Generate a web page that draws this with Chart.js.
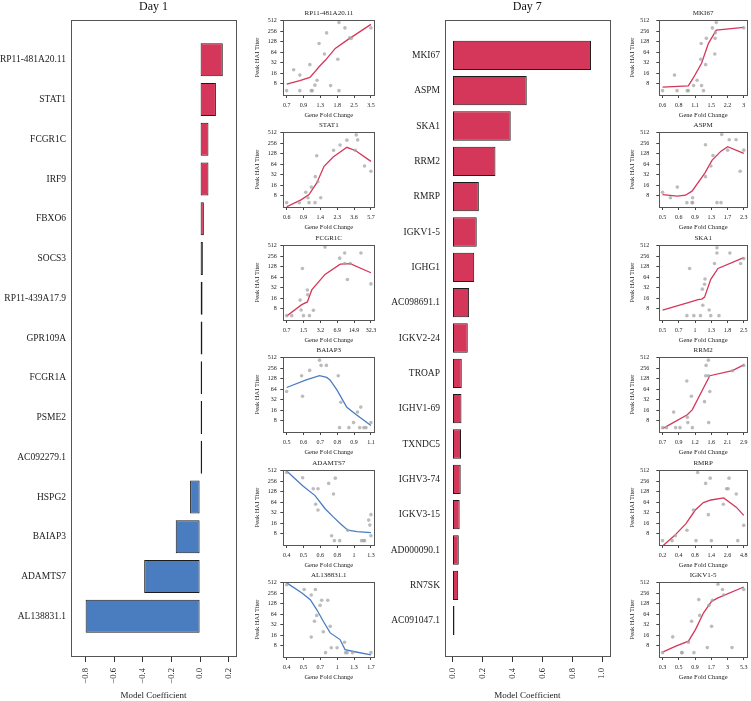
<!DOCTYPE html>
<html>
<head>
<meta charset="utf-8">
<script src="https://cdn.jsdelivr.net/npm/chart.js@4/dist/chart.umd.min.js"></script>
<style>
  body { margin: 0; background: #fff; width: 751px; height: 701px; overflow: hidden; position: relative; }
  canvas { position: absolute; }
</style>
</head>
<body>
<script>
// ---- bar charts: model coefficients ----
const day1Genes = ['RP11-481A20.11', 'STAT1', 'FCGR1C', 'IRF9', 'FBXO6', 'SOCS3', 'RP11-439A17.9', 'GPR109A',
  'FCGR1A', 'PSME2', 'AC092279.1', 'HSPG2', 'BAIAP3', 'ADAMTS7', 'AL138831.1'];
const day1Coef = [0.158, 0.110, 0.058, 0.058, 0.026, 0.019, 0.017, 0.016, 0.010, 0.001, 0.001, -0.070, -0.170, -0.390, -0.798];
const day1Ticks = [-0.8, -0.6, -0.4, -0.2, 0.0, 0.2];

const day7Genes = ['MKI67', 'ASPM', 'SKA1', 'RRM2', 'RMRP', 'IGKV1-5', 'IGHG1', 'AC098691.1', 'IGKV2-24', 'TROAP',
  'IGHV1-69', 'TXNDC5', 'IGHV3-74', 'IGKV3-15', 'AD000090.1', 'RN7SK', 'AC091047.1'];
const day7Coef = [0.925, 0.496, 0.389, 0.287, 0.176, 0.162, 0.145, 0.111, 0.102, 0.062, 0.060, 0.057, 0.055, 0.048, 0.042, 0.038, 0.001];
const day7Ticks = [0.0, 0.2, 0.4, 0.6, 0.8, 1.0];

// ---- small panels: [gene fold change, peak HAI titer] ----
const titerTicks = [8, 16, 32, 64, 128, 256, 512];

const rp11Pts = [[0.7,5],[0.8,20],[0.9,14],[0.9,5],[1.09,28],[1.12,5],[1.14,5],[1.2,7.2],[1.25,10],[1.3,114],[1.44,57],
  [1.5,230],[1.62,7],[1.86,40],[1.9,460],[1.9,5],[2.13,320],[2.33,165],[2.41,160],[3.5,320]];
const rp11Fit = [[0.7,7.7],[0.9,9.8],[1.09,12.1],[1.17,15.8],[1.3,24.4],[1.47,38],[1.77,82],[2.22,142],[3.5,403]];
const rp11Ticks = ['0.7', '0.9', '1.3', '1.8', '2.5', '3.5'];

const stat1Pts = [[0.6,5],[0.84,5],[1.0,10],[1.06,6.9],[1.09,5],[1.16,14],[1.28,5],[1.29,28],[1.34,112],[1.38,20],
  [1.49,6.9],[2.1,160],[2.5,228],[3.0,315],[3.75,160],[3.85,445],[4.0,320],[4.8,57],[5.7,40]];
const stat1Fit = [[0.6,3.8],[0.89,6.1],[1.09,8.5],[1.34,18.5],[1.63,55.6],[2.08,103],[3.0,196],[3.8,156],[5.7,77]];
const stat1Ticks = ['0.6', '0.9', '1.4', '2.3', '3.6', '5.7'];

const fcgr1cPts = [[0.7,5],[0.88,5],[1.29,14],[1.35,7.3],[1.43,114],[1.5,5],[1.79,27.5],[1.82,20],[1.97,5],[2.36,7.1],
  [4.0,470],[7.8,226],[9.8,317],[9.8,158],[11.1,55],[12.6,158],[20.5,317],[32.3,41]];
const fcgr1cFit = [[0.7,4.9],[1.39,10.4],[1.79,12.4],[2.19,27.5],[4.0,77],[8.0,152],[12.6,158],[32.3,86]];
const fcgr1cTicks = ['0.7', '1.5', '3.2', '6.9', '14.9', '32.3'];

const baiap3Pts = [[0.5,55],[0.575,156],[0.58,40],[0.62,222],[0.68,438],[0.69,310],[0.725,310],[0.81,156],[0.82,5],
  [0.83,27],[0.895,5],[0.935,7],[0.97,14],[0.99,5],[1.0,19.5],[1.03,5],[1.05,5],[1.1,7]];
const baiap3Fit = [[0.5,71.5],[0.6,118],[0.68,156],[0.727,140],[0.75,118],[0.8,61],[0.878,19.2],[0.96,11.8],[1.1,5.8]];
const baiap3Ticks = ['0.5', '0.6', '0.7', '0.8', '0.9', '1.1'];

const adamts7Pts = [[0.4,459],[0.5,322],[0.58,156],[0.62,156],[0.6,56],[0.62,38],[0.72,222],[0.77,110],[0.79,315],
  [0.75,6.9],[0.78,5],[0.84,5],[0.94,10],[1.14,5],[1.17,5],[1.19,5],[1.26,19.5],[1.3,28],[1.28,14],[1.3,6.9]];
const adamts7Fit = [[0.4,506],[0.5,191],[0.595,99],[0.685,41.5],[0.77,23.8],[0.845,15.6],[0.94,10.0],[1.07,9.1],[1.3,8.5]];
const adamts7Ticks = ['0.4', '0.5', '0.6', '0.8', '1', '1.3'];

const al1388Pts = [[0.4,452],[0.54,327],[0.61,229],[0.655,327],[0.61,14],[0.645,40],[0.67,59],[0.71,115],[0.73,161],
  [0.81,161],[0.75,20],[0.78,5],[0.845,28.6],[0.86,6.9],[0.95,6.9],[1.08,10],[1.1,5],[1.13,5],[1.24,5],[1.7,5]];
const al1388Fit = [[0.4,510],[0.52,262],[0.6,168],[0.67,87],[0.75,40],[0.845,18.5],[1.0,11.9],[1.09,6.1],[1.26,5.4],[1.7,4.3]];
const al1388Ticks = ['0.4', '0.5', '0.7', '1', '1.3', '1.7'];

const mki67Pts = [[0.6,5],[0.76,14],[0.8,5],[0.98,5],[1.0,5],[1.11,7],[1.19,10],[1.28,40],[1.29,114],[1.3,7],[1.35,5],
  [1.41,28],[1.43,160],[1.61,320],[1.69,57],[1.7,160],[1.71,232],[1.74,457],[3.0,320]];
const mki67Fit = [[0.6,6.3],[1.0,6.9],[1.1,11.4],[1.3,30.6],[1.49,115],[1.74,275],[3.0,331]];
const mki67Ticks = ['0.6', '0.8', '1.1', '1.5', '2.2', '3'];

const aspmPts = [[0.5,10],[0.58,6.9],[0.66,14],[0.79,5],[0.87,5],[0.88,5],[0.88,6.9],[1.12,232],[1.12,28],[1.24,57],
  [1.29,114],[1.39,5],[1.5,5],[1.52,457],[1.7,162],[1.75,324],[1.99,324],[2.15,40],[2.3,162]];
const aspmFit = [[0.5,8.5],[0.66,7.7],[0.77,8.2],[0.87,10.7],[1.11,36],[1.27,84],[1.5,152],[1.7,205],[2.3,131]];
const aspmTicks = ['0.5', '0.6', '0.9', '1.3', '1.7', '2.3'];

const ska1Pts = [[0.81,5],[0.855,114],[0.93,5],[1.06,5],[1.1,29],[1.11,10],[1.15,40],[1.16,57],[1.26,7.3],[1.3,5],
  [1.4,158],[1.47,452],[1.47,317],[1.53,5],[1.9,317],[2.35,158],[2.5,219]];
const ska1Fit = [[0.5,7.2],[0.845,12],[1.01,14.4],[1.09,15],[1.15,17.1],[1.3,55.7],[1.5,114],[2.5,234]];
const ska1Ticks = ['0.5', '0.7', '1', '1.3', '1.8', '2.5'];

const rrm2Pts = [[0.7,5],[0.75,5],[0.85,14],[0.88,5],[0.95,5],[1.07,110],[1.08,10],[1.09,7],[1.16,40],[1.18,5],
  [1.46,28],[1.49,156],[1.5,310],[1.56,438],[1.57,7],[1.56,156],[1.6,55],[2.38,218],[2.9,310]];
const rrm2Fit = [[0.7,4.7],[1.08,11.8],[1.18,16.5],[1.6,156],[2.38,218],[2.9,321]];
const rrm2Ticks = ['0.7', '0.9', '1.2', '1.6', '2.1', '2.9'];

const rmrpPts = [[0.2,5],[0.29,5],[0.33,6.9],[0.52,10],[0.67,38],[0.74,5],[0.79,459],[1.08,222],[1.2,28],[1.29,315],
  [1.35,5],[2.16,56],[2.46,156],[2.6,156],[2.7,315],[3.58,110],[3.8,5],[4.8,13.8]];
const rmrpFit = [[0.2,3.5],[0.32,7],[0.5,15.5],[0.72,38],[0.99,62.6],[1.33,74],[2.19,85],[3.58,46],[4.8,26.6]];
const rmrpTicks = ['0.2', '0.4', '0.8', '1.4', '2.6', '4.8'];

const igkv15Pts = [[0.3,5],[0.43,14.2],[0.59,5],[0.6,5],[0.75,10],[0.84,40],[0.91,5],[1.08,168],[1.12,59],[1.46,7],
  [1.55,115],[1.7,28.6],[1.76,161],[2.13,466],[2.5,327],[2.6,229],[3.5,7],[5.3,327]];
const igkv15Fit = [[0.3,5.2],[0.48,7.7],[0.75,10.7],[0.96,23],[1.28,70],[1.7,150],[2.13,188],[5.3,388]];
const igkv15Ticks = ['0.3', '0.5', '0.9', '1.7', '3', '5.3'];

const RED = '#d4375a';
const BLUE = '#4a7dc0';
const SERIF = '"Liberation Serif", "DejaVu Serif", serif';
const INK = '#222';

const day1Panels = [
  { name: 'RP11-481A20.11', pts: rp11Pts, fit: rp11Fit, ticks: rp11Ticks, color: RED },
  { name: 'STAT1', pts: stat1Pts, fit: stat1Fit, ticks: stat1Ticks, color: RED },
  { name: 'FCGR1C', pts: fcgr1cPts, fit: fcgr1cFit, ticks: fcgr1cTicks, color: RED },
  { name: 'BAIAP3', pts: baiap3Pts, fit: baiap3Fit, ticks: baiap3Ticks, color: BLUE },
  { name: 'ADAMTS7', pts: adamts7Pts, fit: adamts7Fit, ticks: adamts7Ticks, color: BLUE },
  { name: 'AL138831.1', pts: al1388Pts, fit: al1388Fit, ticks: al1388Ticks, color: BLUE }
];
const day7Panels = [
  { name: 'MKI67', pts: mki67Pts, fit: mki67Fit, ticks: mki67Ticks, color: RED },
  { name: 'ASPM', pts: aspmPts, fit: aspmFit, ticks: aspmTicks, color: RED },
  { name: 'SKA1', pts: ska1Pts, fit: ska1Fit, ticks: ska1Ticks, color: RED },
  { name: 'RRM2', pts: rrm2Pts, fit: rrm2Fit, ticks: rrm2Ticks, color: RED },
  { name: 'RMRP', pts: rmrpPts, fit: rmrpFit, ticks: rmrpTicks, color: RED },
  { name: 'IGKV1-5', pts: igkv15Pts, fit: igkv15Fit, ticks: igkv15Ticks, color: RED }
];

// frame around the plotting region, like R's box()
const boxPlugin = {
  id: 'box',
  afterDraw(chart) {
    const { ctx, chartArea: a } = chart;
    ctx.save();
    ctx.strokeStyle = '#555';
    ctx.lineWidth = 1;
    ctx.strokeRect(Math.round(a.left) + 0.5, Math.round(a.top) + 0.5,
      Math.round(a.right - a.left), Math.round(a.bottom - a.top));
    ctx.restore();
  }
};

function addCanvas(left, top, w, h) {
  const c = document.createElement('canvas');
  c.width = w;
  c.height = h;
  c.style.left = left + 'px';
  c.style.top = top + 'px';
  document.body.appendChild(c);
  return c;
}

function fmtCoef(v) {
  return v.toFixed(1).replace('-', '\u2212');
}

function barChart(left, width, title, genes, coefs, ticks, xMin, xMax, yAxisW, padRight) {
  const c = addCanvas(left, 0, width, 701);
  const labels = ['', ...genes, ''];
  const vals = [null, ...coefs, null];
  new Chart(c, {
    type: 'bar',
    data: {
      labels: labels,
      datasets: [{
        data: vals,
        backgroundColor: vals.map(v => (v !== null && v < 0 ? BLUE : RED)),
        borderColor: '#1b1b1b',
        borderWidth: 1,
        borderSkipped: false,
        barPercentage: 0.83,
        categoryPercentage: 1,
        minBarLength: 2
      }]
    },
    options: {
      indexAxis: 'y',
      responsive: false,
      animation: false,
      layout: { padding: { left: 0, right: padRight, top: 0, bottom: 0 } },
      plugins: {
        legend: { display: false },
        tooltip: { enabled: false },
        title: {
          display: true, text: title, fullSize: false, color: '#111',
          font: { family: SERIF, size: 12, weight: 'normal' },
          padding: { top: 0, bottom: 5.6 }
        }
      },
      scales: {
        y: {
          type: 'category',
          offset: false,
          grid: { display: false, drawTicks: false, tickLength: 0 },
          border: { display: false },
          ticks: { autoSkip: false, padding: 5, color: INK, font: { family: SERIF, size: 9.5 } },
          afterFit: s => { s.width = yAxisW; s.paddingTop = 0; s.paddingBottom = 0; }
        },
        x: {
          type: 'linear',
          min: xMin,
          max: xMax,
          grid: { drawOnChartArea: false, tickLength: 6, color: '#333' },
          border: { display: false },
          afterBuildTicks: s => { s.ticks = ticks.map(v => ({ value: v })); },
          ticks: {
            autoSkip: false, minRotation: 90, maxRotation: 90, padding: 6, color: INK,
            font: { family: SERIF, size: 8.5 },
            callback: (v, i) => fmtCoef(ticks[i])
          },
          title: {
            display: true, text: 'Model Coefficient', color: INK,
            font: { family: SERIF, size: 9 }, padding: { top: 0, bottom: 0 }
          },
          afterFit: s => { s.height = 45; s.paddingLeft = 0; s.paddingRight = 0; }
        }
      }
    },
    plugins: [boxPlugin]
  });
}

function panelChart(p, idx, geo) {
  const top = 3.7 + 112.5 * idx;
  const c = addCanvas(geo.left, top, geo.w, 117);
  const first = parseFloat(p.ticks[0]);
  const last = parseFloat(p.ticks[p.ticks.length - 1]);
  const n = p.ticks.length;
  const ratio = last / first;
  // tick marks sit evenly on the log axis; the printed labels are rounded
  const tickVals = p.ticks.map((t, i) => first * Math.pow(ratio, i / (n - 1)));
  const pad = Math.pow(ratio, 0.04);
  new Chart(c, {
    type: 'scatter',
    data: {
      datasets: [
        {
          data: p.pts.map(([x, y]) => ({ x, y })),
          pointRadius: 1.8,
          pointBackgroundColor: 'rgba(165,165,165,0.75)',
          pointBorderWidth: 0
        },
        {
          data: p.fit.map(([x, y]) => ({ x, y })),
          showLine: true,
          borderColor: p.color,
          borderWidth: 1.3,
          pointRadius: 0,
          tension: 0
        }
      ]
    },
    options: {
      responsive: false,
      animation: false,
      layout: { padding: { left: 0, right: geo.padR, top: 0, bottom: 0 } },
      plugins: {
        legend: { display: false },
        tooltip: { enabled: false },
        title: {
          display: true, text: p.name, fullSize: false, color: INK,
          font: { family: SERIF, size: 7, weight: 'normal' },
          padding: { top: 4.8, bottom: 2.8 }
        }
      },
      scales: {
        x: {
          type: 'logarithmic',
          min: first / pad,
          max: last * pad,
          grid: { drawOnChartArea: false, tickLength: 3, color: '#444' },
          border: { display: false },
          afterBuildTicks: s => { s.ticks = tickVals.map(v => ({ value: v })); },
          ticks: {
            autoSkip: false, maxRotation: 0, padding: 4, color: INK,
            font: { family: SERIF, size: 6 },
            callback: (v, i) => p.ticks[i]
          },
          title: {
            display: true, text: 'Gene Fold Change', color: INK,
            font: { family: SERIF, size: 6.5 }, padding: { top: 0, bottom: 1.5 }
          },
          afterFit: s => { s.height = 26; s.paddingLeft = 0; s.paddingRight = 0; }
        },
        y: {
          type: 'logarithmic',
          min: 3.75,
          max: 540,
          grid: { drawOnChartArea: false, tickLength: 3, color: '#444' },
          border: { display: false },
          afterBuildTicks: s => { s.ticks = titerTicks.map(v => ({ value: v })); },
          ticks: {
            autoSkip: false, padding: geo.tickPad, color: INK,
            font: { family: SERIF, size: 6 },
            callback: (v, i) => String(titerTicks[i])
          },
          title: {
            display: true, text: 'Peak HAI Titer', color: INK,
            font: { family: SERIF, size: 6.5 }, padding: { top: geo.titlePad, bottom: 0 }
          },
          afterFit: s => { s.width = geo.yW; s.paddingTop = 0; s.paddingBottom = 0; }
        }
      }
    },
    plugins: [boxPlugin]
  });
}

barChart(0, 250, 'Day 1', day1Genes, day1Coef, day1Ticks, -0.9, 0.25, 71, 14);
barChart(390, 230, 'Day 7', day7Genes, day7Coef, day7Ticks, -0.05, 1.05, 55, 10.3);

const day1Geo = { left: 250, w: 130, yW: 33.3, padR: 5.7, tickPad: 3.5, titlePad: 3.1 };
const day7Geo = { left: 620, w: 131, yW: 39.3, padR: 1, tickPad: 7, titlePad: 8.8 };
day1Panels.forEach((p, i) => panelChart(p, i, day1Geo));
day7Panels.forEach((p, i) => panelChart(p, i, day7Geo));
</script>
</body>
</html>
